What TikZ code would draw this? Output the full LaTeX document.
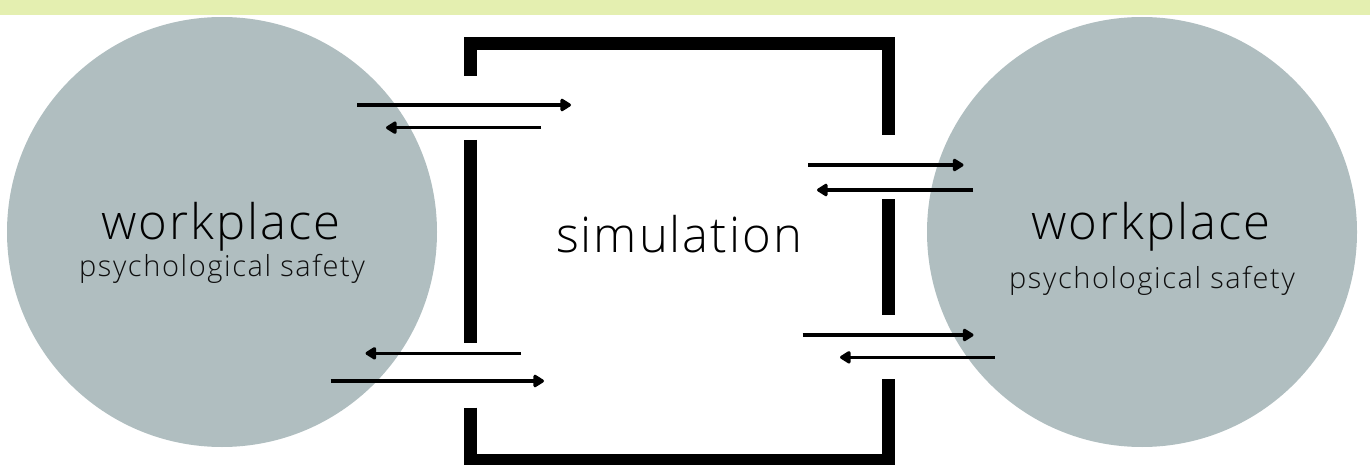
\documentclass[tikz,border=0pt]{standalone}
\usepackage{fontspec}
\setmainfont{Open Sans Light}
\usetikzlibrary{arrows.meta}
\definecolor{band}{HTML}{E4EFB0}
\definecolor{disc}{HTML}{B0BEC0}
\definecolor{maintext}{HTML}{000000}
\definecolor{subtext}{HTML}{0E0E0E}
\begin{document}
\begin{tikzpicture}[x=1pt,y=-1pt,
  wall/.style={line width=13.3pt,line cap=butt,line join=miter,black},
  flow/.style={line width=3.2pt,-{Triangle[length=12pt,width=14pt,round]},black},
  wp/.style={circle,fill=disc,minimum size=430pt,inner sep=0pt},
  bigtext/.style={font=\fontsize{49}{49}\selectfont\addfontfeatures{LetterSpace=4},text=maintext,inner sep=0pt,anchor=base},
  smalltext/.style={font=\fontsize{29}{29}\selectfont\addfontfeatures{LetterSpace=5.5},text=subtext,inner sep=0pt,anchor=base}]
\useasboundingbox (0,0) rectangle (1370,465);
\fill[band] (0,0) rectangle (1370,15);
% circles
\node[wp] (L) at (222,232) {};
\node[wp] (R) at (1142,232) {};
% texts
\node[bigtext] (Lw) at (221,240) {workplace};
\node[smalltext] (Lp) at (222,276) {psychological safety};
\node[bigtext] (Rw) at (1151,240) {workplace};
\node[smalltext] (Rp) at (1152,288) {psychological safety};
\node[bigtext] (S) at (679,252) {simulation};
% box walls
\draw[wall] (470.7,76) -- (470.7,43.3) -- (888.8,43.3) -- (888.8,135);
\draw[wall] (470.7,140) -- (470.7,343.3);
\draw[wall] (888.8,199.3) -- (888.8,315);
\draw[wall] (470.7,407.7) -- (470.7,461) -- (888.8,461) -- (888.8,379.3);
% arrow end coordinates
\coordinate (a1s) at (357,105);   \coordinate (a1e) at (571,105);
\coordinate (a2s) at (541,127.7); \coordinate (a2e) at (386,127.7);
\coordinate (a3s) at (521,353.3); \coordinate (a3e) at (365.5,353.3);
\coordinate (a4s) at (330.5,381); \coordinate (a4e) at (544,381);
\coordinate (b1s) at (808,165);   \coordinate (b1e) at (963.5,165);
\coordinate (b2s) at (973,190);   \coordinate (b2e) at (817,190);
\coordinate (b3s) at (802.5,335); \coordinate (b3e) at (973.5,335);
\coordinate (b4s) at (994.5,357.3); \coordinate (b4e) at (840,357.3);
\draw[flow] (a1s) -- (a1e);
\draw[flow] (a2s) -- (a2e);
\draw[flow] (a3s) -- (a3e);
\draw[flow] (a4s) -- (a4e);
\draw[flow] (b1s) -- (b1e);
\draw[flow] (b2s) -- (b2e);
\draw[flow] (b3s) -- (b3e);
\draw[flow] (b4s) -- (b4e);
\end{tikzpicture}
\end{document}
